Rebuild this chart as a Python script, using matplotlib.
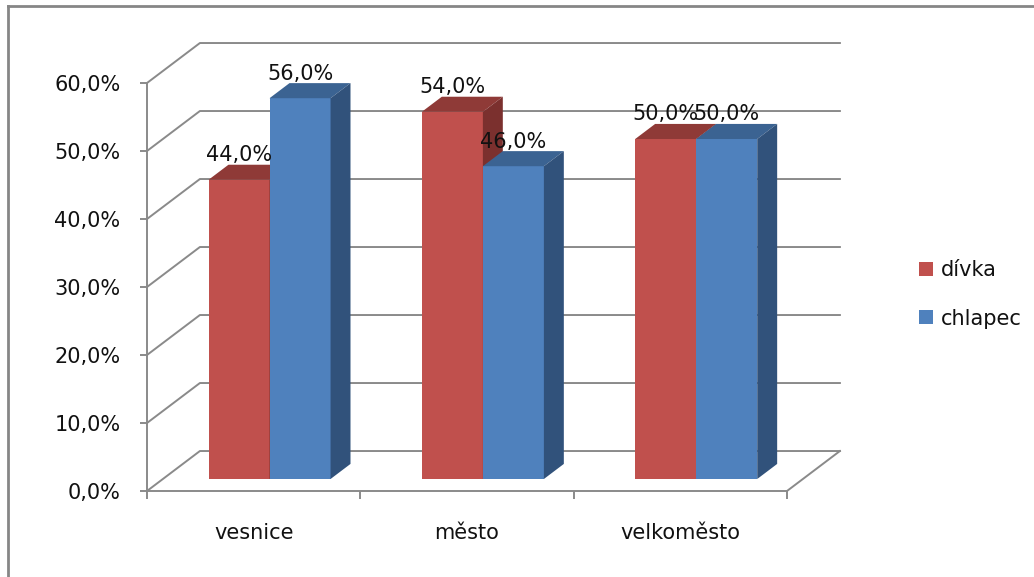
import numpy as np
import matplotlib
matplotlib.use("Agg")
import matplotlib.pyplot as plt
from matplotlib.patches import Polygon
from matplotlib.lines import Line2D

categories = ["vesnice", "město", "velkoměsto"]
divka = [44.0, 54.0, 50.0]
chlapec = [56.0, 46.0, 50.0]
series_names = ["dívka", "chlapec"]
y_ticks = [0, 10, 20, 30, 40, 50, 60]

front = ["#C0504D", "#4F81BD"]
top = ["#8F3A37", "#3B6392"]
side = ["#7B302E", "#31527B"]
grid_col = "#8A8A8A"
txt_col = "#111111"
fs = 15

# depth of the 3D box, in data units
DX = 0.248
DY = 5.88
d0, d1 = 0.30, 0.677   # bar front/back depth fraction
w = 0.286              # bar width (category units)

plt.rcParams['font.family'] = ['DejaVu Sans']
fig = plt.figure(figsize=(10.34, 5.77), dpi=100)
ax = fig.add_axes([147/1034, 86/577, 640/1034, 408/577])
ax.set_xlim(0, 3)
ax.set_ylim(0, 60)
ax.set_facecolor("none")

# back wall + floor lines
for v in y_ticks:
    ax.plot([0, DX, 3 + DX], [v, v + DY, v + DY], color=grid_col, lw=1.4,
            clip_on=False, zorder=1)
ax.plot([3, 3 + DX], [0, DY], color=grid_col, lw=1.4, clip_on=False, zorder=1)

# bars
for i, vals in enumerate([divka, chlapec]):
    for c, v in enumerate(vals):
        x0 = c + 0.5 - w + i * w + d0 * DX
        y0 = d0 * DY
        dd = (d1 - d0)
        ax.bar(x0, v, bottom=y0, width=w, align='edge', color=front[i],
               zorder=3 + c * 2 + i, clip_on=False,
               label=series_names[i] if c == 0 else None)
        ax.add_patch(Polygon([(x0, y0 + v), (x0 + w, y0 + v),
                              (x0 + w + dd * DX, y0 + v + dd * DY),
                              (x0 + dd * DX, y0 + v + dd * DY)],
                             closed=True, color=top[i], lw=0,
                             zorder=3 + c * 2 + i, clip_on=False))
        ax.add_patch(Polygon([(x0 + w, y0), (x0 + w + dd * DX, y0 + dd * DY),
                              (x0 + w + dd * DX, y0 + v + dd * DY),
                              (x0 + w, y0 + v)],
                             closed=True, color=side[i], lw=0,
                             zorder=3 + c * 2 + i, clip_on=False))
        ax.annotate(f"{v:.1f}%".replace(".", ","),
                    xy=(x0 + w / 2, v + d1 * DY), xytext=(0, 2.5),
                    textcoords='offset points', ha='center', va='baseline',
                    fontsize=fs, color=txt_col, zorder=20,
                    annotation_clip=False)

# axes
for s in ["top", "right"]:
    ax.spines[s].set_visible(False)
for s in ["left", "bottom"]:
    ax.spines[s].set_color(grid_col)
    ax.spines[s].set_linewidth(1.4)
    ax.spines[s].set_zorder(2)
ax.set_yticks(y_ticks)
ax.set_yticklabels([f"{t:.1f}%".replace(".", ",") for t in y_ticks])
ax.tick_params(axis='y', length=5, width=1.4, color=grid_col, pad=14,
               labelsize=fs, labelcolor=txt_col)
ax.set_xticks([0, 1, 2, 3])
ax.set_xticklabels([])
ax.set_xticks([0.5, 1.5, 2.5], minor=True)
ax.set_xticklabels(categories, minor=True)
ax.tick_params(axis='x', which='major', length=6, width=1.4, color=grid_col)
ax.tick_params(axis='x', which='minor', length=0, pad=23, labelsize=fs,
               labelcolor=txt_col)

leg = ax.legend(loc='center left', bbox_to_anchor=(919/1034, 1 - 294.5/577),
                bbox_transform=fig.transFigure, frameon=False, fontsize=fs,
                handlelength=0.68, handleheight=0.68, handletextpad=0.35,
                labelspacing=1.35, borderpad=0, borderaxespad=0)
for t in leg.get_texts():
    t.set_color(txt_col)

# chart frame (only top and left visible)
fig.add_artist(Line2D([8/1034, 1], [1 - 6/577, 1 - 6/577], color="#868686",
                      lw=2, transform=fig.transFigure))
fig.add_artist(Line2D([8/1034, 8/1034], [0, 1 - 6/577], color="#868686",
                      lw=2, transform=fig.transFigure))

fig.savefig("out.png", dpi=100)
